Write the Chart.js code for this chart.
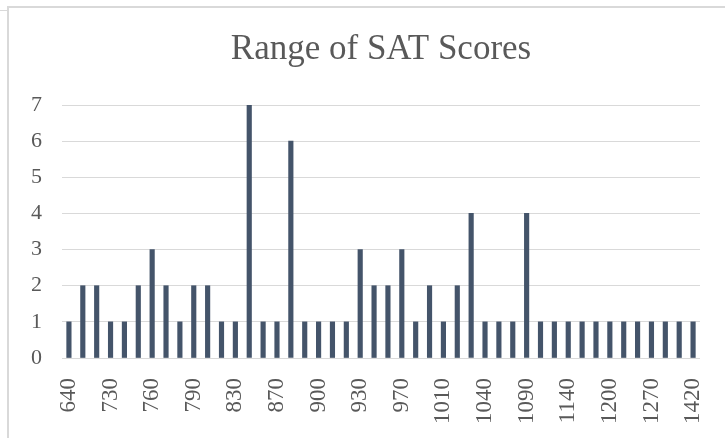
<!DOCTYPE html>
<html>
<head>
<meta charset="utf-8">
<script src="https://cdn.jsdelivr.net/npm/chart.js@4.4.1/dist/chart.umd.min.js"></script>
<style>
  body { margin: 0; background: #fff; width: 725px; height: 438px; overflow: hidden; position: relative; }
  .edge { position: absolute; background: #d9d9d9; }
  #wrap { position: absolute; left: 9px; top: 8px; width: 716px; height: 430px; }
</style>
</head>
<body>
<div class="edge" style="left:7px; top:6px; width:2px; height:432px;"></div>
<div class="edge" style="left:7px; top:6px; width:718px; height:2px;"></div>
<div class="edge" style="left:0; top:10px; width:7px; height:1px;"></div>
<div id="wrap"><canvas id="myChart" width="716" height="430"></canvas></div>
<script>
// SAT scores (x categories) and how many students got each one
const scores = [640, 680, 710, 730, 740, 750, 760, 770, 780, 790, 800, 820, 830, 840, 860, 870,
  880, 890, 900, 910, 920, 930, 940, 960, 970, 980, 1000, 1010, 1020, 1030, 1040, 1060,
  1080, 1090, 1110, 1120, 1140, 1160, 1180, 1200, 1220, 1250, 1270, 1300, 1350, 1420];
const counts = [1, 2, 2, 1, 1, 2, 3, 2, 1, 2, 2, 1, 1, 7, 1, 1,
  6, 1, 1, 1, 1, 3, 2, 2, 3, 1, 2, 1, 2, 4, 1, 1,
  1, 4, 1, 1, 1, 1, 1, 1, 1, 1, 1, 1, 1, 1];
const yTicks = [0, 1, 2, 3, 4, 5, 6, 7];

const serif = "'Liberation Serif', serif";

const ctx = document.getElementById('myChart').getContext('2d');
new Chart(ctx, {
  type: 'bar',
  data: {
    labels: scores,
    datasets: [{
      label: 'Count',
      data: counts,
      backgroundColor: '#44546A',
      barThickness: 4.5,
    }],
  },
  options: {
    responsive: false,
    animation: false,
    devicePixelRatio: 1,
    layout: { padding: { top: 8, left: 2, right: 25, bottom: 2 } },
    plugins: {
      legend: { display: false },
      tooltip: { enabled: false },
      title: {
        display: true,
        text: 'Range of SAT Scores',
        fullSize: false,
        color: '#595959',
        font: { family: serif, size: 35, weight: 'normal' },
        padding: { top: 13, bottom: 34 },
      },
    },
    scales: {
      x: {
        grid: { display: false },
        border: { display: false },
        afterFit: (axis) => { axis.paddingLeft = 0; axis.paddingRight = 0; },
        ticks: {
          autoSkip: false,
          minRotation: 90,
          maxRotation: 90,
          padding: 12,
          color: '#595959',
          font: { family: serif, size: 23 },
          callback: (val, i) => (i % 3 === 0 ? scores[i] : ''),
        },
      },
      y: {
        min: yTicks[0],
        max: yTicks[yTicks.length - 1],
        afterBuildTicks: (axis) => { axis.ticks = yTicks.map(v => ({ value: v })); },
        grid: { color: '#d9d9d9', lineWidth: 1, drawTicks: false },
        border: { display: false },
        ticks: { padding: 20, color: '#595959', font: { family: serif, size: 22 } },
      },
    },
  },
});
</script>
</body>
</html>
